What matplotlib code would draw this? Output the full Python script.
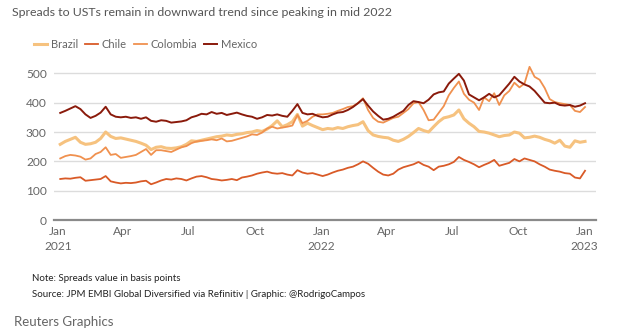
import pandas as pd
import matplotlib.pyplot as plt
import matplotlib.dates as mdates

plt.rcParams['font.family'] = ['Lato', 'DejaVu Sans']

# --- weekly EMBI spreads over USTs, basis points ---
dates = pd.date_range('2021-01-04', periods=105, freq='W-MON')

brazil = [
    258, 268, 275, 282, 265, 258, 260, 265, 278, 300, 285, 278, 280,
    276, 272, 268, 262, 255, 240, 248, 250, 245, 244, 246, 250, 258,
    270, 268, 272, 276, 280, 284, 286, 290, 288, 292, 294, 298, 300,
    305, 302, 310, 322, 338, 318, 325, 335, 360, 320, 330, 322, 315,
    308, 312, 310, 315, 312, 318, 322, 325, 335, 305, 290, 285, 282,
    280, 272, 268, 275, 285, 298, 312, 305, 300, 318, 335, 348, 352,
    358, 375, 345, 330, 318, 302, 300, 296, 290, 284, 288, 290, 300,
    296, 280, 282, 286, 282, 275, 270, 262, 272, 252, 248, 270, 265,
    268,
]
chile = [
    140, 142, 141, 144, 146, 134, 136, 138, 140, 150, 132, 128, 125,
    127, 126, 128, 132, 134, 122, 128, 135, 140, 138, 142, 140, 135,
    142, 148, 150, 146, 140, 138, 135, 137, 140, 136, 145, 148, 152,
    158, 162, 165, 160, 158, 160, 155, 152, 170, 162, 158, 160, 155,
    150, 155, 162, 168, 172, 178, 182, 190, 200, 192, 178, 165, 155,
    152, 158, 172, 180, 185, 190, 198, 188, 182, 170, 182, 185, 190,
    198, 215, 205, 198, 190, 180, 188, 195, 205, 185, 190, 195, 208,
    200, 210, 205, 200, 190, 182, 172, 168, 165, 160, 158, 145, 142,
    168,
]
colombia = [
    210, 218, 222, 220, 216, 206, 210, 225, 232, 248, 222, 225, 212,
    215, 218, 222, 232, 242, 222, 238, 238, 235, 232, 240, 248, 252,
    262, 268, 270, 272, 275, 272, 278, 268, 270, 275, 280, 285, 292,
    290, 298, 312, 318, 312, 315, 318, 322, 358, 330, 338, 352, 360,
    360, 362, 365, 372, 378, 385, 388, 398, 415, 375, 348, 335, 332,
    340, 348, 352, 365, 378, 398, 402, 375, 340, 342, 365, 388, 425,
    450, 472, 430, 410, 400, 375, 418, 405, 432, 392, 425, 440, 468,
    452, 465, 522, 488, 478, 450, 412, 402, 398, 395, 392, 372, 368,
    385,
]
mexico = [
    365, 372, 380, 388, 378, 360, 348, 355, 366, 386, 360, 352, 350,
    352, 348, 350, 345, 350, 338, 335, 340, 338, 332, 334, 336, 340,
    350, 355, 362, 360, 368, 362, 365, 358, 362, 366, 360, 355, 352,
    345, 350, 358, 356, 360, 355, 352, 372, 395, 365, 360, 362, 355,
    350, 352, 360, 366, 368, 375, 385, 398, 412, 390, 370, 355, 342,
    345, 352, 362, 372, 392, 405, 402, 398, 410, 428, 435, 438, 465,
    482, 498, 475, 428, 418, 408, 418, 430, 418, 425, 445, 465, 488,
    472, 462, 455, 440, 420, 400, 398, 400, 392, 390, 392, 386, 390,
    398,
]

series = ['Brazil', 'Chile', 'Colombia', 'Mexico']
values = [brazil, chile, colombia, mexico]
colors = ['#f6c27f', '#d95a27', '#f0914f', '#8a1a0b']
widths = [2.2, 1.3, 1.3, 1.4]

fig = plt.figure(figsize=(6.4, 3.34), dpi=100)
ax = fig.add_axes([0.084, 0.341, 0.847, 0.466])

for name, vals, c, w in zip(series, values, colors, widths):
    ax.plot(dates, vals, color=c, lw=w, label=name)

ax.set_ylim(0, 530)
ax.set_yticks([0, 100, 200, 300, 400, 500])
ax.set_xlim(pd.Timestamp('2020-12-26'), pd.Timestamp('2023-01-17'))
ax.xaxis.set_major_locator(mdates.MonthLocator(bymonth=[1, 4, 7, 10]))

def fmt_date(x, pos=None):
    d = mdates.num2date(x)
    if d.month == 1:
        return d.strftime('%b\n%Y')
    return d.strftime('%b')

ax.xaxis.set_major_formatter(plt.FuncFormatter(fmt_date))

ax.grid(axis='y', color='#dcdcdc', lw=1)
ax.set_axisbelow(True)
for s in ['top', 'right', 'left']:
    ax.spines[s].set_visible(False)
ax.spines['bottom'].set_color('#8a8a8a')
ax.spines['bottom'].set_linewidth(1.6)
ax.tick_params(axis='both', length=0, labelsize=8.6, colors='#666666')
ax.tick_params(axis='x', pad=4)
ax.tick_params(axis='y', pad=5)
for lbl in ax.get_xticklabels() + ax.get_yticklabels():
    lbl.set_linespacing(1.5)

fig.text(0.019, 0.962, 'Spreads to USTs remain in downward trend since peaking in mid 2022',
         fontsize=8.95, color='#555555', va='center')
fig.legend(loc='center left', bbox_to_anchor=(0.046, 0.866), ncol=4, frameon=False,
           fontsize=8, labelcolor='#666666', handlelength=1.15, handletextpad=0.35,
           columnspacing=0.65, borderaxespad=0)

fig.text(0.05, 0.165, 'Note: Spreads value in basis points', fontsize=7, color='#222222', va='center')
fig.text(0.05, 0.118, 'Source: JPM EMBI Global Diversified via Refinitiv | Graphic: @RodrigoCampos',
         fontsize=7, color='#222222', va='center')
fig.text(0.022, 0.035, 'Reuters Graphics', fontsize=9.5, color='#666666', va='center')

plt.savefig('out.png', dpi=100)
plt.close()
